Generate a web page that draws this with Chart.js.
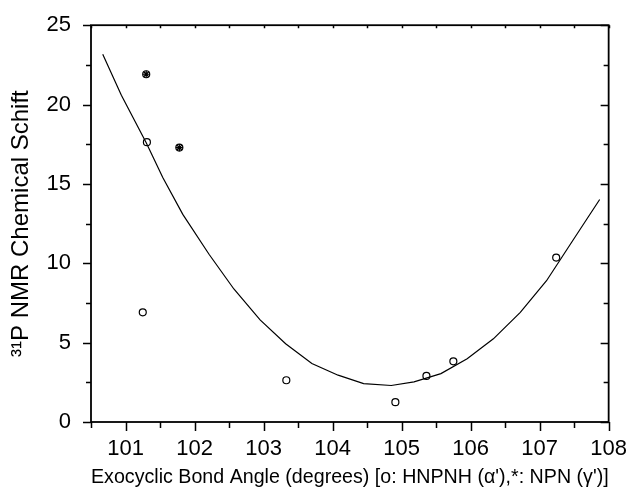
<!DOCTYPE html>
<html>
<head>
<meta charset="utf-8">
<script src="https://cdn.jsdelivr.net/npm/chart.js@4"></script>
<style>
  body { margin: 0; background: #fff; }
</style>
</head>
<body>
<canvas id="chart" width="633" height="492"></canvas>
<script>
// o: HNPNH (alpha') points
var angleO = [101.30, 101.31, 101.78, 101.25, 103.33, 104.91, 105.36, 105.75, 107.24];
var shiftO = [21.91, 17.63, 17.29, 6.91, 2.63, 1.25, 2.90, 3.82, 10.36];
// *: NPN (gamma') points
var angleStar = [101.30, 101.78];
var shiftStar = [21.91, 17.29];
// fitted curve
var fitAngle = [100.67, 100.94, 101.30, 101.54, 101.83, 102.21, 102.57, 102.95, 103.32, 103.70,
                104.08, 104.45, 104.85, 105.18, 105.57, 105.95, 106.33, 106.72, 107.10, 107.49, 107.87];
var fitShift = [23.17, 20.59, 17.60, 15.40, 13.08, 10.57, 8.38, 6.43, 4.93, 3.68,
                2.95, 2.42, 2.30, 2.53, 3.05, 3.99, 5.24, 6.91, 8.90, 11.50, 14.02];
// axes
var xMajor = [101, 102, 103, 104, 105, 106, 107, 108];
var xMinor = [100.5, 101.5, 102.5, 103.5, 104.5, 105.5, 106.5, 107.5];
var yMajor = [0, 5, 10, 15, 20, 25];
var yMinor = [2.5, 7.5, 12.5, 17.5, 22.5];

function pts(xs, ys) {
    return xs.map(function (v, i) { return { x: v, y: ys[i] }; });
}

var frameTicks = {
    id: 'frameTicks',
    afterDatasetsDraw: function (chart) {
        var ctx = chart.ctx, a = chart.chartArea;
        var sx = chart.scales.x, sy = chart.scales.y;
        ctx.save();
        ctx.strokeStyle = '#000';
        ctx.lineWidth = 1.5;
        ctx.beginPath();
        xMajor.concat(xMinor).forEach(function (v) {
            var p = Math.round(sx.getPixelForValue(v)) + 0.5;
            var big = xMajor.indexOf(v) >= 0;
            ctx.moveTo(p, a.bottom); ctx.lineTo(p, a.bottom + (big ? 9 : 6));
            ctx.moveTo(p, a.top); ctx.lineTo(p, a.top + 3);
        });
        yMajor.concat(yMinor).forEach(function (v) {
            var p = Math.round(sy.getPixelForValue(v)) + 0.5;
            var big = yMajor.indexOf(v) >= 0;
            ctx.moveTo(a.left, p); ctx.lineTo(a.left - (big ? 8 : 5), p);
            ctx.moveTo(a.right, p); ctx.lineTo(a.right - (big ? 8 : 5), p);
        });
        ctx.stroke();
        ctx.lineWidth = 1.8;
        ctx.strokeRect(a.left, a.top, a.right - a.left, a.bottom - a.top);
        ctx.restore();
    }
};

var font = 'Liberation Sans, Arial, sans-serif';

new Chart(document.getElementById('chart').getContext('2d'), {
    type: 'scatter',
    data: {
        datasets: [{
            label: 'fit',
            type: 'line',
            data: pts(fitAngle, fitShift),
            borderColor: '#000',
            borderWidth: 1.2,
            pointRadius: 0,
            tension: 0,
            fill: false
        }, {
            label: 'HNPNH',
            data: pts(angleO, shiftO),
            pointStyle: 'circle',
            pointRadius: 3.5,
            borderColor: '#000',
            borderWidth: 1.2,
            backgroundColor: 'rgba(0,0,0,0)'
        }, {
            label: 'NPN',
            data: pts(angleStar, shiftStar),
            pointStyle: 'star',
            pointRadius: 3.5,
            borderColor: '#000',
            borderWidth: 1.2
        }]
    },
    options: {
        responsive: false,
        animation: false,
        layout: { padding: { top: 23, right: 19.5, left: 0, bottom: 0 } },
        plugins: {
            legend: { display: false },
            tooltip: { enabled: false }
        },
        scales: {
            x: {
                type: 'linear',
                min: 100.5,
                max: 108,
                afterBuildTicks: function (s) { s.ticks = xMajor.map(function (v) { return { value: v }; }); },
                afterFit: function (s) { s.height = 70; },
                grid: { display: false },
                border: { display: false },
                ticks: { color: '#000', padding: 6, font: { family: font, size: 22 } },
                title: {
                    display: true,
                    text: "Exocyclic Bond Angle (degrees) [o: HNPNH (\u03b1'),*: NPN (\u03b3')]",
                    color: '#000',
                    font: { family: font, size: 20.5 },
                    padding: { top: 0, bottom: 2 }
                }
            },
            y: {
                min: 0,
                max: 25,
                afterBuildTicks: function (s) { s.ticks = yMajor.map(function (v) { return { value: v }; }); },
                afterFit: function (s) { s.width = 91; },
                grid: { display: false },
                border: { display: false },
                ticks: { color: '#000', padding: 12, font: { family: font, size: 22 } },
                title: {
                    display: true,
                    text: '\u00b3\u00b9P NMR Chemical Schift',
                    color: '#000',
                    font: { family: font, size: 24 },
                    padding: { top: 7, bottom: 0 }
                }
            }
        }
    },
    plugins: [frameTicks]
});
</script>
</body>
</html>
